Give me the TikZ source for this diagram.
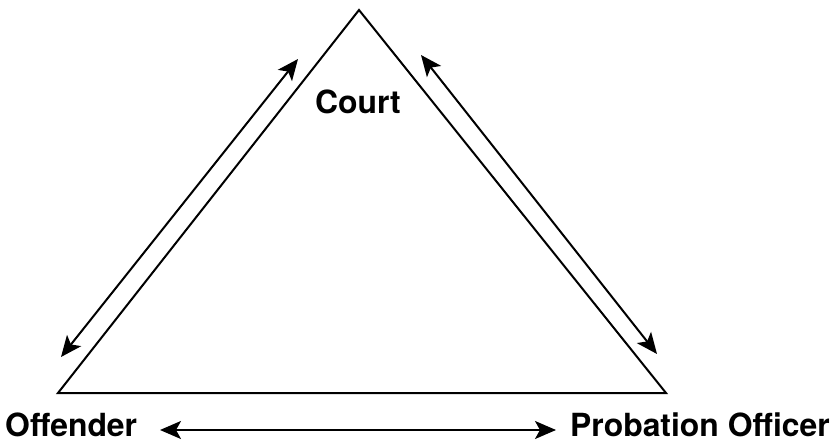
\documentclass[tikz,border=0pt]{standalone}
\usepackage{fontspec}
\setsansfont{TeX Gyre Heros}
\usetikzlibrary{arrows.meta}
\begin{document}
\begin{tikzpicture}[x=1bp,y=-1bp,
  side/.style={line width=2bp,line join=miter},
  rel/.style={line width=2bp,{Stealth[length=21bp,width=18bp,inset=5bp]}-{Stealth[length=21bp,width=18bp,inset=5bp]}},
  lbl/.style={inner sep=0pt,text depth=0pt,font=\sffamily\bfseries\fontsize{32}{32}\selectfont}]
\useasboundingbox (0,0) rectangle (834,441);
\coordinate (top) at (359,10);
\coordinate (bl) at (58,393);
\coordinate (br) at (666,393);
\draw[side] (top) -- (bl) -- (br) -- cycle;
\coordinate (la) at (298,59);
\coordinate (lb) at (61,357);
\coordinate (ra) at (421,55);
\coordinate (rb) at (657,354);
\coordinate (ba) at (160,430);
\coordinate (bb) at (556,430);
\draw[rel] (la) -- (lb);
\draw[rel] (ra) -- (rb);
\draw[rel] (ba) -- (bb);
\node[lbl,anchor=base east] (court) at (401,114) {Court};
\node[lbl,anchor=base west] (off) at (5,436) {Offender};
\node[lbl,anchor=base east] (po) at (830,436) {Probation Officer};
\end{tikzpicture}
\end{document}
